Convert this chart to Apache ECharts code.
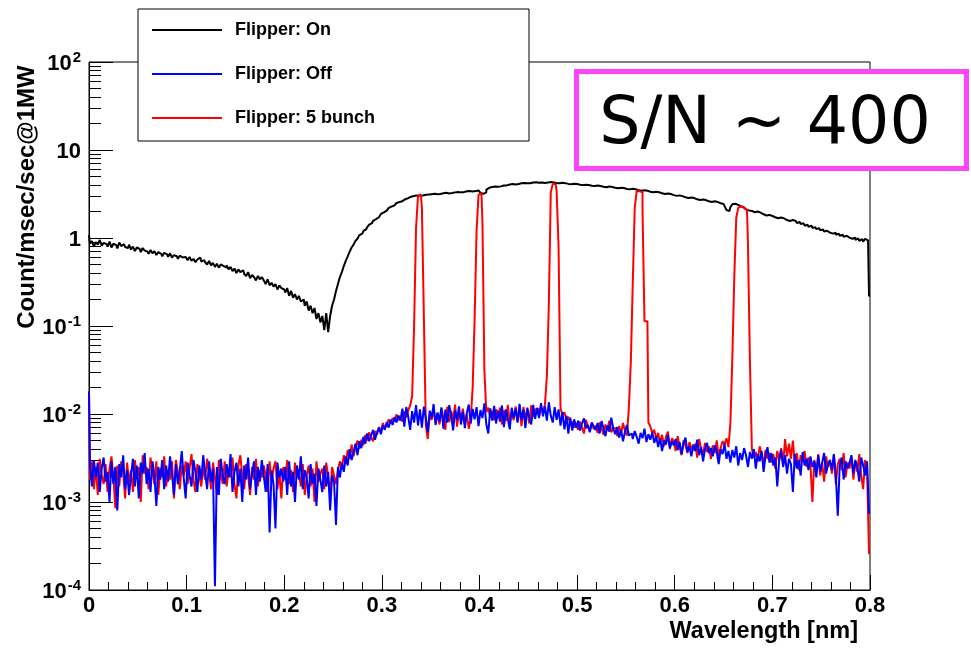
<!DOCTYPE html>
<html><head><meta charset="utf-8">
<script src="https://cdn.jsdelivr.net/npm/echarts@6/dist/echarts.min.js"></script>
<style>html,body{margin:0;padding:0;background:#fff}#c{width:971px;height:649px}</style>
</head><body><div id="c"></div>
<script>
// histogram bin width in nm (bins start at 0)
const BIN = 0.002;
const xMin = 0, xMax = 0.8, xStep = 0.1;
const yExponents = [-4, -3, -2, -1, 0, 1, 2];
const seriesNames = ['Flipper: On', 'Flipper: Off', 'Flipper: 5 bunch'];

// Flipper: On (black)
const flipperOn = [
1.08,0.86,0.92,0.80,0.90,0.84,0.95,0.82,0.88,0.85,
0.80,0.91,0.78,0.86,0.83,0.76,0.89,0.81,0.85,0.79,
0.77,0.84,0.74,0.80,0.71,0.78,0.75,0.69,0.77,0.72,
0.70,0.66,0.73,0.67,0.71,0.64,0.69,0.66,0.62,0.68,
0.65,0.61,0.67,0.60,0.64,0.62,0.58,0.63,0.60,0.61,
0.59,0.56,0.61,0.55,0.58,0.53,0.57,0.60,0.54,0.56,
0.53,0.50,0.55,0.49,0.52,0.47,0.51,0.46,0.50,0.48,
0.46,0.49,0.44,0.47,0.42,0.45,0.40,0.44,0.41,0.43,
0.39,0.37,0.41,0.35,0.38,0.36,0.33,0.37,0.34,0.36,
0.33,0.30,0.34,0.29,0.31,0.28,0.30,0.26,0.29,0.27,
0.26,0.24,0.27,0.22,0.25,0.21,0.23,0.20,0.22,0.19,
0.20,0.17,0.19,0.15,0.17,0.14,0.16,0.12,0.14,0.11,
0.13,0.09,0.14,0.085,0.13,0.17,0.20,0.25,0.30,0.36,
0.41,0.48,0.55,0.62,0.70,0.78,0.84,0.93,0.98,1.08,
1.12,1.20,1.26,1.33,1.42,1.48,1.57,1.64,1.72,1.80,
1.88,1.96,2.05,2.12,2.20,2.28,2.35,2.42,2.50,2.56,
2.62,2.70,2.76,2.84,2.90,2.95,3.00,2.98,3.05,3.02,
3.08,3.04,3.10,3.06,3.12,3.15,3.10,3.18,3.14,3.20,
3.17,3.22,3.19,3.26,3.21,3.28,3.24,3.30,3.27,3.33,
3.30,3.36,3.32,3.40,3.35,3.43,3.38,3.45,3.41,3.47,
3.42,3.25,3.18,3.30,3.55,3.72,3.80,3.76,3.85,3.82,
3.90,3.86,3.95,4.00,3.96,4.05,4.02,4.10,4.06,4.14,
4.10,4.18,4.15,4.22,4.18,4.26,4.20,4.28,4.23,4.30,
4.25,4.32,4.27,4.22,4.30,4.26,4.33,4.24,4.28,4.21,
4.26,4.18,4.24,4.15,4.20,4.12,4.17,4.09,4.14,4.06,
4.10,4.03,4.08,3.99,4.04,3.96,4.01,3.93,3.98,3.90,
3.94,3.86,3.90,3.82,3.87,3.78,3.84,3.75,3.80,3.72,
3.76,3.68,3.73,3.64,3.70,3.60,3.66,3.57,3.62,3.53,
3.58,3.48,3.53,3.44,3.49,3.40,3.45,3.36,3.41,3.32,
3.36,3.27,3.31,3.22,3.26,3.17,3.21,3.12,3.16,3.07,
3.10,3.01,3.05,2.95,2.99,2.90,2.94,2.85,2.88,2.80,
2.84,2.75,2.79,2.70,2.74,2.66,2.70,2.61,2.65,2.57,
2.61,2.53,2.57,2.48,2.52,2.44,2.30,2.08,2.02,2.25,
2.42,2.45,2.38,2.33,2.28,2.22,2.15,2.10,2.06,2.03,
2.05,1.96,2.00,1.91,1.94,1.86,1.89,1.80,1.83,1.76,
1.78,1.72,1.75,1.68,1.71,1.64,1.67,1.60,1.63,1.56,
1.60,1.52,1.56,1.48,1.52,1.44,1.47,1.38,1.42,1.34,
1.38,1.30,1.33,1.26,1.29,1.22,1.25,1.18,1.21,1.15,
1.18,1.12,1.15,1.09,1.12,1.06,1.09,1.03,1.06,1.01,
1.04,0.98,1.01,0.95,0.99,0.93,0.97,0.91,0.98,0.94,
0.22];

// Flipper: Off (blue)
const flipperOff = [
0.018,2.6e-3,1.5e-3,3.0e-3,1.9e-3,2.8e-3,1.3e-3,2.4e-3,3.2e-3,1.7e-3,
2.2e-3,1.0e-3,2.9e-3,1.6e-3,2.5e-3,0.8e-3,2.7e-3,1.9e-3,3.4e-3,1.4e-3,
2.3e-3,1.2e-3,2.0e-3,3.1e-3,1.5e-3,2.6e-3,1.1e-3,2.8e-3,2.1e-3,3.6e-3,
1.6e-3,2.4e-3,1.3e-3,2.9e-3,2.0e-3,0.9e-3,2.5e-3,1.8e-3,3.0e-3,1.4e-3,
2.6e-3,1.7e-3,3.3e-3,2.1e-3,1.2e-3,2.7e-3,1.6e-3,2.3e-3,3.8e-3,1.9e-3,
1.1e-3,2.8e-3,2.0e-3,1.5e-3,3.0e-3,2.2e-3,1.3e-3,2.6e-3,1.8e-3,3.4e-3,
2.1e-3,1.4e-3,2.9e-3,1.7e-3,2.4e-3,1.1e-4,2.5e-3,1.2e-3,3.1e-3,2.0e-3,
1.6e-3,2.7e-3,1.9e-3,3.5e-3,1.3e-3,2.2e-3,2.8e-3,1.5e-3,2.4e-3,1.0e-3,
2.6e-3,1.8e-3,3.2e-3,1.4e-3,2.1e-3,2.9e-3,1.2e-3,2.5e-3,1.7e-3,3.0e-3,
2.0e-3,1.3e-3,2.7e-3,0.45e-3,2.3e-3,1.6e-3,0.5e-3,2.8e-3,1.9e-3,2.4e-3,
1.7e-3,2.5e-3,1.2e-3,2.9e-3,1.5e-3,2.2e-3,1.0e-3,2.6e-3,1.8e-3,3.3e-3,
1.4e-3,2.3e-3,1.9e-3,1.1e-3,2.7e-3,1.6e-3,2.1e-3,0.9e-3,2.4e-3,1.8e-3,
1.3e-3,2.6e-3,1.5e-3,2.2e-3,0.8e-3,2.0e-3,1.7e-3,0.55e-3,2.5e-3,1.9e-3,
2.8e-3,2.2e-3,3.3e-3,2.6e-3,4.0e-3,3.0e-3,3.7e-3,4.6e-3,3.4e-3,4.9e-3,
4.1e-3,5.5e-3,4.6e-3,6.0e-3,4.9e-3,5.7e-3,6.6e-3,5.1e-3,6.2e-3,7.0e-3,
5.9e-3,7.4e-3,6.6e-3,8.1e-3,7.0e-3,8.6e-3,7.5e-3,9.2e-3,8.0e-3,9.6e-3,
8.4e-3,11.5e-3,7.2e-3,12.0e-3,9.3e-3,6.6e-3,10.8e-3,8.0e-3,12.6e-3,7.4e-3,
11.3e-3,7.0e-3,12.1e-3,8.9e-3,6.2e-3,10.9e-3,9.0e-3,13.0e-3,7.5e-3,10.4e-3,
8.2e-3,11.9e-3,6.8e-3,11.2e-3,8.0e-3,12.6e-3,9.5e-3,6.5e-3,11.0e-3,8.6e-3,
12.2e-3,7.6e-3,10.6e-3,6.9e-3,10.3e-3,12.8e-3,7.8e-3,11.4e-3,8.7e-3,12.0e-3,
7.3e-3,11.1e-3,9.0e-3,13.2e-3,7.6e-3,6.0e-3,11.6e-3,8.4e-3,12.4e-3,7.8e-3,
10.9e-3,8.2e-3,12.5e-3,7.1e-3,11.3e-3,8.8e-3,6.7e-3,11.8e-3,9.0e-3,11.6e-3,
8.0e-3,13.0e-3,8.6e-3,11.2e-3,6.9e-3,11.8e-3,9.2e-3,7.6e-3,12.7e-3,8.8e-3,
11.7e-3,9.0e-3,13.3e-3,9.4e-3,12.2e-3,8.4e-3,13.6e-3,9.6e-3,8.0e-3,12.0e-3,
8.6e-3,11.3e-3,7.4e-3,10.5e-3,6.7e-3,9.6e-3,6.0e-3,9.1e-3,6.5e-3,8.7e-3,
7.0e-3,8.4e-3,6.5e-3,7.8e-3,8.9e-3,6.9e-3,7.5e-3,6.2e-3,8.0e-3,7.2e-3,
6.6e-3,7.9e-3,6.0e-3,8.3e-3,6.9e-3,5.6e-3,7.4e-3,6.3e-3,9.1e-3,6.8e-3,
5.9e-3,7.1e-3,5.4e-3,6.6e-3,4.9e-3,6.3e-3,7.5e-3,5.7e-3,6.0e-3,5.2e-3,
6.4e-3,5.5e-3,4.6e-3,6.1e-3,5.3e-3,6.8e-3,4.8e-3,5.9e-3,5.1e-3,6.2e-3,
4.7e-3,5.6e-3,4.2e-3,5.3e-3,3.8e-3,5.0e-3,4.5e-3,5.8e-3,4.1e-3,4.9e-3,
4.4e-3,5.2e-3,3.9e-3,4.8e-3,3.5e-3,4.6e-3,5.4e-3,3.7e-3,4.3e-3,3.3e-3,
4.5e-3,3.8e-3,5.1e-3,3.4e-3,4.2e-3,2.9e-3,4.0e-3,4.7e-3,3.6e-3,4.1e-3,
3.3e-3,4.4e-3,3.7e-3,2.7e-3,4.0e-3,3.5e-3,4.6e-3,3.1e-3,3.8e-3,2.8e-3,
3.9e-3,3.2e-3,4.3e-3,2.6e-3,3.6e-3,3.0e-3,4.1e-3,3.4e-3,2.5e-3,3.7e-3,
3.1e-3,4.0e-3,2.4e-3,3.5e-3,2.9e-3,3.8e-3,2.2e-3,3.3e-3,4.2e-3,2.8e-3,
3.6e-3,2.6e-3,3.2e-3,1.5e-3,3.0e-3,3.9e-3,2.5e-3,3.4e-3,2.1e-3,3.1e-3,
2.7e-3,1.3e-3,3.5e-3,2.4e-3,3.0e-3,2.0e-3,3.7e-3,2.6e-3,3.1e-3,2.3e-3,
3.3e-3,2.5e-3,2.9e-3,1.9e-3,3.4e-3,2.2e-3,2.8e-3,3.6e-3,2.1e-3,2.7e-3,
3.0e-3,2.3e-3,3.5e-3,2.0e-3,0.7e-3,2.6e-3,3.2e-3,1.8e-3,2.9e-3,2.4e-3,
2.8e-3,3.4e-3,2.1e-3,3.0e-3,2.5e-3,1.7e-3,3.2e-3,2.6e-3,2.0e-3,2.9e-3,
0.75e-3];

// Flipper: 5 bunch (red)
const flipper5 = [
0.018,1.8e-3,2.9e-3,1.4e-3,2.5e-3,1.2e-3,3.1e-3,2.0e-3,1.6e-3,2.7e-3,
1.3e-3,2.4e-3,3.3e-3,1.9e-3,0.85e-3,2.6e-3,1.5e-3,2.9e-3,2.2e-3,1.1e-3,
2.8e-3,1.7e-3,2.3e-3,1.3e-3,3.0e-3,1.9e-3,2.5e-3,1.0e-3,3.4e-3,2.1e-3,
2.5e-3,1.4e-3,3.2e-3,2.2e-3,1.6e-3,2.9e-3,1.2e-3,2.4e-3,1.9e-3,3.3e-3,
1.5e-3,2.3e-3,1.8e-3,2.9e-3,1.1e-3,3.0e-3,2.2e-3,1.4e-3,2.6e-3,2.0e-3,
2.9e-3,1.6e-3,2.4e-3,3.5e-3,1.8e-3,1.3e-3,2.7e-3,2.0e-3,1.5e-3,2.5e-3,
1.8e-3,3.1e-3,2.2e-3,1.4e-3,2.8e-3,1.9e-3,1.2e-3,3.0e-3,2.1e-3,1.6e-3,
2.9e-3,1.5e-3,2.3e-3,1.9e-3,3.2e-3,1.6e-3,1.1e-3,2.6e-3,3.4e-3,2.0e-3,
1.4e-3,2.7e-3,2.0e-3,1.2e-3,2.5e-3,1.8e-3,3.1e-3,1.5e-3,2.3e-3,1.9e-3,
2.6e-3,2.0e-3,1.3e-3,2.9e-3,1.7e-3,2.4e-3,2.9e-3,1.4e-3,2.2e-3,1.1e-3,
2.5e-3,1.8e-3,3.0e-3,1.6e-3,2.3e-3,1.3e-3,2.8e-3,1.9e-3,2.2e-3,1.5e-3,
2.7e-3,1.2e-3,2.0e-3,2.6e-3,1.5e-3,2.4e-3,1.0e-3,2.9e-3,1.7e-3,2.1e-3,
2.4e-3,1.4e-3,2.8e-3,1.9e-3,1.2e-3,2.5e-3,2.0e-3,1.6e-3,2.3e-3,2.9e-3,
2.4e-3,3.4e-3,2.7e-3,3.9e-3,3.1e-3,4.5e-3,3.3e-3,4.2e-3,5.0e-3,4.0e-3,
5.1e-3,4.4e-3,5.8e-3,5.0e-3,6.2e-3,5.4e-3,4.9e-3,6.4e-3,5.8e-3,7.1e-3,
6.3e-3,7.9e-3,6.9e-3,7.4e-3,8.7e-3,7.8e-3,9.0e-3,8.2e-3,9.9e-3,8.5e-3,
9.5e-3,8.2e-3,10.7e-3,9.1e-3,11.0e-3,12.5e-3,0.016,0.1,1.3,3.0,
3.1,2.2,0.13,7.5e-3,5.2e-3,9.8e-3,8.6e-3,11.2e-3,7.9e-3,10.1e-3,
7.6e-3,11.6e-3,9.0e-3,6.6e-3,12.1e-3,8.1e-3,10.8e-3,8.6e-3,12.8e-3,7.2e-3,
10.4e-3,9.0e-3,11.5e-3,7.8e-3,9.9e-3,6.8e-3,8.8e-3,0.02,0.12,1.2,
3.1,3.2,1.56,0.031,10.5e-3,11.8e-3,9.2e-3,10.8e-3,8.5e-3,11.3e-3,
9.0e-3,11.8e-3,7.6e-3,11.0e-3,8.3e-3,12.7e-3,7.9e-3,10.7e-3,8.5e-3,12.2e-3,
8.2e-3,11.6e-3,7.3e-3,12.0e-3,8.9e-3,11.1e-3,7.8e-3,12.5e-3,9.2e-3,11.3e-3,
11.6e-3,9.5e-3,12.1e-3,10.6e-3,12.7e-3,0.027,0.17,3.3,4.1,4.1,
3.4,0.78,11.5e-3,9.8e-3,10.4e-3,8.7e-3,9.3e-3,7.6e-3,8.2e-3,7.0e-3,
7.7e-3,6.6e-3,8.2e-3,7.1e-3,6.0e-3,8.6e-3,7.3e-3,6.4e-3,7.9e-3,6.7e-3,
7.4e-3,6.1e-3,8.0e-3,6.9e-3,5.8e-3,7.6e-3,6.5e-3,8.4e-3,6.2e-3,7.0e-3,
6.8e-3,5.6e-3,7.3e-3,6.0e-3,7.9e-3,6.4e-3,5.7e-3,11.8e-3,0.039,0.31,
2.2,3.4,3.4,3.3,1.96,0.113,0.113,8.0e-3,7.2e-3,6.1e-3,
6.6e-3,5.2e-3,6.1e-3,4.6e-3,5.8e-3,4.3e-3,5.5e-3,6.3e-3,4.0e-3,5.3e-3,
4.9e-3,3.8e-3,5.6e-3,4.2e-3,3.4e-3,5.0e-3,4.4e-3,3.6e-3,4.8e-3,4.1e-3,
3.9e-3,4.6e-3,3.2e-3,5.2e-3,4.0e-3,3.5e-3,4.7e-3,3.7e-3,4.3e-3,3.1e-3,
4.4e-3,3.6e-3,5.0e-3,3.3e-3,4.1e-3,4.9e-3,4.5e-3,5.3e-3,4.2e-3,7.9e-3,
0.044,0.37,1.7,2.2,2.3,2.2,2.2,2.1,0.85,0.04,
4.0e-3,3.2e-3,3.7e-3,2.9e-3,4.3e-3,3.4e-3,2.7e-3,3.9e-3,3.1e-3,3.6e-3,
2.8e-3,3.5e-3,2.4e-3,3.8e-3,3.0e-3,4.1e-3,2.6e-3,5.2e-3,3.3e-3,4.6e-3,
3.1e-3,5.0e-3,2.7e-3,3.6e-3,2.3e-3,3.4e-3,2.9e-3,3.8e-3,2.5e-3,3.2e-3,
2.6e-3,1.0e-3,3.0e-3,2.2e-3,3.5e-3,2.0e-3,2.8e-3,1.7e-3,3.3e-3,2.5e-3,
2.9e-3,2.1e-3,3.4e-3,1.6e-3,2.7e-3,3.1e-3,2.3e-3,3.6e-3,1.9e-3,2.8e-3,
2.4e-3,3.2e-3,1.8e-3,2.9e-3,2.2e-3,3.5e-3,2.0e-3,1.4e-3,3.0e-3,2.3e-3,
0.26e-3];

const FONT = '"Liberation Sans", Arial, Helvetica, sans-serif';
const wl = flipperOn.map((_, i) => +(i * BIN).toFixed(3));
const pairs = arr => arr.map((v, i) => [wl[i], v]);

// minor tick positions (log10 of 2..9 x 10^e) for the overlay axis
const yMinorTicks = [];
for (let e = yExponents[0]; e < yExponents[yExponents.length - 1]; e++) {
  for (let m = 2; m <= 9; m++) yMinorTicks.push(Math.log10(m) + e);
}

const chart = echarts.init(document.getElementById('c'), null, {renderer: 'canvas'});
const option = {
  animation: false,
  backgroundColor: '#fff',
  grid: {left: 89, right: 101, top: 62, bottom: 59, show: true, borderColor: '#000', borderWidth: 1, backgroundColor: 'transparent'},
  legend: {
    data: seriesNames,
    orient: 'vertical', left: 138, top: 9,
    padding: [11, 154, 13, 14],
    itemGap: 24, itemWidth: 70, itemHeight: 2, icon: 'rect',
    backgroundColor: '#fff', borderColor: '#000', borderWidth: 1,
    selectedMode: false,
    textStyle: {fontFamily: FONT, fontWeight: 'bold', fontSize: 18, color: '#000', lineHeight: 20, padding: [0, 0, 0, 8]}
  },
  xAxis: {
    type: 'value', min: xMin, max: xMax, interval: xStep,
    axisLine: {onZero: false, lineStyle: {color: '#000', width: 1}},
    axisTick: {inside: true, length: 15, lineStyle: {color: '#000', width: 1}},
    minorTick: {show: true, splitNumber: 5, length: 8, lineStyle: {color: '#000', width: 1}},
    splitLine: {show: false},
    axisLabel: {fontFamily: FONT, fontWeight: 'bold', fontSize: 22, color: '#000', margin: 5,
      formatter: v => (v === 0 ? '0' : v.toFixed(1))}
  },
  yAxis: [{
    type: 'log', logBase: 10, min: Math.pow(10, yExponents[0]), max: Math.pow(10, yExponents[yExponents.length - 1]),
    position: 'left',
    axisLine: {onZero: false, lineStyle: {color: '#000', width: 1}},
    axisTick: {inside: true, length: 24, lineStyle: {color: '#000', width: 1}},
    splitLine: {show: false},
    minorTick: {show: false},
    axisLabel: {
      margin: 8, color: '#000',
      formatter: v => {
        const e = Math.round(Math.log10(v));
        if (e === 0) return '{b|1}';
        if (e === 1) return '{b|10}';
        return '{b|10}{s|' + e + '}';
      },
      rich: {
        b: {fontFamily: FONT, fontWeight: 'bold', fontSize: 22, color: '#000', padding: [4, 0, 0, 0]},
        s: {fontFamily: FONT, fontWeight: 'bold', fontSize: 15, color: '#000', padding: [0, 0, 8, 1]}
      }
    }
  }, {
    type: 'value', min: yExponents[0], max: yExponents[yExponents.length - 1],
    position: 'left', offset: 0,
    axisLine: {show: false, onZero: false},
    axisLabel: {show: false},
    splitLine: {show: false},
    axisTick: {show: true, inside: true, length: 12, customValues: yMinorTicks, lineStyle: {color: '#000', width: 1}}
  }],
  graphic: {elements: [
    {type: 'text', x: 27, y: 197, rotation: Math.PI / 2, z: 50,
     style: {text: 'Count/msec/sec@1MW', fontFamily: FONT, fontWeight: 'bold', fontSize: 24, fill: '#000', align: 'center', verticalAlign: 'middle'}},
    {type: 'text', x: 858, y: 632, z: 50,
     style: {text: 'Wavelength [nm]', fontFamily: FONT, fontWeight: 'bold', fontSize: 23.5, fill: '#000', align: 'right', verticalAlign: 'middle'}},
    {type: 'rect', z: 100, shape: {x: 576.5, y: 71.5, width: 390, height: 97},
     style: {fill: '#fff', stroke: '#fb45f8', lineWidth: 5}},
    {type: 'text', x: 765, y: 126, z: 101,
     style: {text: 'S/N ~ 400', fontFamily: '"DejaVu Sans", Verdana, sans-serif', fontSize: 65, fill: '#000', align: 'center', verticalAlign: 'middle'}}
  ]},
  series: [
    {name: seriesNames[0], type: 'line', step: 'middle', data: pairs(flipperOn), showSymbol: false, symbol: 'none',
     lineStyle: {color: '#000', width: 2}, itemStyle: {color: '#000'}, z: 3},
    {name: seriesNames[2], type: 'line', step: 'middle', data: pairs(flipper5), showSymbol: false, symbol: 'none',
     lineStyle: {color: '#ff0000', width: 2}, itemStyle: {color: '#ff0000'}, z: 4},
    {name: seriesNames[1], type: 'line', step: 'middle', data: pairs(flipperOff), showSymbol: false, symbol: 'none',
     lineStyle: {color: '#0000ff', width: 2}, itemStyle: {color: '#0000ff'}, z: 5}
  ]
};
chart.setOption(option);
</script>
</body></html>
